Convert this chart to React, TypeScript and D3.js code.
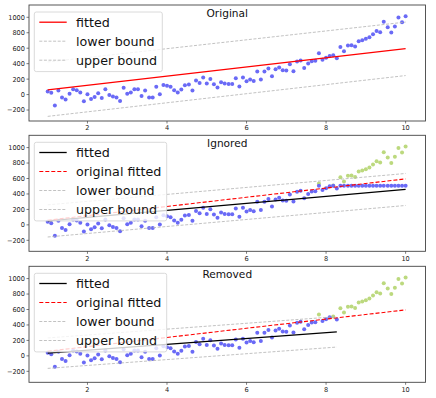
import React from 'react';
import * as d3 from 'd3';

// sample positions (100 evenly spaced samples between 1 and 10)
const xValues = [
  1.0, 1.09, 1.18, 1.27, 1.36, 1.45, 1.55, 1.64, 1.73, 1.82, 1.91,
  2.0, 2.09, 2.18, 2.27, 2.36, 2.45, 2.55, 2.64, 2.73, 2.82, 2.91,
  3.0, 3.09, 3.18, 3.27, 3.36, 3.45, 3.55, 3.64, 3.73, 3.82, 3.91,
  4.0, 4.09, 4.18, 4.27, 4.36, 4.45, 4.55, 4.64, 4.73, 4.82, 4.91,
  5.0, 5.09, 5.18, 5.27, 5.36, 5.45, 5.55, 5.64, 5.73, 5.82, 5.91,
  6.0, 6.09, 6.18, 6.27, 6.36, 6.45, 6.55, 6.64, 6.73, 6.82, 6.91,
  7.0, 7.09, 7.18, 7.27, 7.36, 7.45, 7.55, 7.64, 7.73, 7.82, 7.91,
  8.0, 8.09, 8.18, 8.27, 8.36, 8.45, 8.55, 8.64, 8.73, 8.82, 8.91,
  9.0, 9.09, 9.18, 9.27, 9.36, 9.45, 9.55, 9.64, 9.73, 9.82, 9.91,
  10.0,
];

const yValues = [
  40, 22, -142, 52, -39, -65, 9, 70, 57, 26,
  -85, 5, -56, -30, 18, -43, 70, -4, -26, -39,
  -82, 87, 9, 26, 70, 68, -17, 52, -39, -39,
  100, 5, 125, 113, 100, 57, 26, 65, 121, 129,
  52, 181, 151, 220, 142, 203, 134, 91, 160, 142,
  138, 138, 212, 104, 220, 173, 194, 177, 298, 194,
  298, 336, 238, 328, 350, 315, 311, 393, 302, 427,
  440, 345, 401, 432, 436, 536, 451, 475, 499, 510,
  471, 617, 561, 634, 639, 621, 691, 704, 721, 743,
  782, 824, 807, 941, 872, 802, 880, 996, 937, 1014,
];

// values above this are treated as outliers
const outlierCap = 505;

// straight lines given by their two ends
const fullEnds = [1, 10];
const removedEnds = [1, 8.27];
const originalFit = [60, 595];
const originalLower = [-282, 246];
const originalUpper = [422, 938];
const ignoredFit = [52, 460];
const ignoredLower = [-157, 251];
const ignoredUpper = [259, 665];
const removedFit = [35, 311];
const removedLower = [-162, 114];
const removedUpper = [232, 508];

const xTicks = [2, 4, 6, 8, 10];
const yTicks = [-200, 0, 200, 400, 600, 800, 1000];

const W = 436;
const H = 398;
const left = 29;
const right = 425.5;
const panelH = 116;
const font = 'DejaVu Sans, sans-serif';

const BLUE = '#6a6af6';
const GREEN = '#bcd97e';

type Style = { stroke: string; width: number; dash?: string };
const fitRed: Style = { stroke: '#ff0000', width: 1.3 };
const fitBlack: Style = { stroke: '#000000', width: 1.3 };
const origDashed: Style = { stroke: '#ff0000', width: 1.1, dash: '4,2' };
const bound: Style = { stroke: '#b3b3b3', width: 0.8, dash: '3,1.6' };

type Line = { label: string; xs: number[]; ys: number[]; style: Style; legendStyle?: Style };

const x = d3.scaleLinear().domain([0.53, 10.5]).range([left, right]);

const pts = xValues.map((xv, i) => ({ x: xv, y: yValues[i] }));
const outliers = pts.filter(p => p.y > outlierCap);
const capped = pts.map(p => ({ x: p.x, y: Math.min(p.y, outlierCap) }));
const kept = pts.filter(p => p.y <= outlierCap);

const panels = [
  {
    title: 'Original', top: 5, legendW: 128,
    blue: pts, green: [] as { x: number; y: number }[],
    lines: [
      { label: 'fitted', xs: fullEnds, ys: originalFit, style: fitRed },
      { label: 'lower bound', xs: fullEnds, ys: originalLower, style: bound },
      { label: 'upper bound', xs: fullEnds, ys: originalUpper, style: bound },
    ] as Line[],
  },
  {
    title: 'Ignored', top: 135.3, legendW: 132.4,
    blue: capped, green: outliers,
    lines: [
      { label: 'fitted', xs: fullEnds, ys: ignoredFit, style: fitBlack },
      { label: 'original fitted', xs: fullEnds, ys: originalFit, style: origDashed },
      { label: 'lower bound', xs: fullEnds, ys: ignoredLower, style: bound },
      { label: 'upper bound', xs: fullEnds, ys: ignoredUpper, style: bound },
    ] as Line[],
  },
  {
    title: 'Removed', top: 266.3, legendW: 132.4,
    blue: kept, green: outliers,
    lines: [
      { label: 'fitted', xs: removedEnds, ys: removedFit, style: fitBlack },
      { label: 'original fitted', xs: fullEnds, ys: originalFit, style: origDashed },
      { label: 'lower bound', xs: removedEnds, ys: removedLower, style: bound },
      { label: 'upper bound', xs: removedEnds, ys: removedUpper, style: bound },
    ] as Line[],
  },
];

function Panel({ p }: { p: typeof panels[number] }) {
  const top = p.top;
  const bottom = top + panelH;
  const y = d3.scaleLinear().domain([-342, 1159]).range([bottom, top]);
  const line = d3.line<[number, number]>().x(d => x(d[0])).y(d => y(d[1]));

  const lx = left + 5.3;
  const ly = top + 7;
  const rowY = (i: number) => top + 17.2 + i * 19;
  const legendH = rowY(p.lines.length - 1) + 11.4 - ly;

  return (
    <g>
      <rect x={left} y={top} width={right - left} height={panelH} fill="#fff" />
      {p.green.map((d, i) => (
        <circle key={'g' + i} cx={x(d.x)} cy={y(d.y)} r={2} fill={GREEN} />
      ))}
      {p.blue.map((d, i) => (
        <circle key={'b' + i} cx={x(d.x)} cy={y(d.y)} r={2} fill={BLUE} />
      ))}
      {p.lines.map((l, i) => (
        <path
          key={'l' + i}
          d={line(l.xs.map((xv, j) => [xv, l.ys[j]] as [number, number])) || ''}
          fill="none"
          stroke={l.style.stroke}
          strokeWidth={l.style.width}
          strokeDasharray={l.style.dash}
        />
      ))}
      <rect x={left} y={top} width={right - left} height={panelH} fill="none" stroke="#444" strokeWidth={0.9} />
      {/* ticks */}
      {xTicks.map(t => (
        <g key={'xt' + t}>
          <line x1={x(t)} x2={x(t)} y1={bottom} y2={bottom + 2.5} stroke="#444" strokeWidth={0.7} />
          <text x={x(t)} y={bottom + 9.2} textAnchor="middle" fontSize={6.6} fontFamily={font} fill="#222">{t}</text>
        </g>
      ))}
      {yTicks.map(t => (
        <g key={'yt' + t}>
          <line x1={left - 2.5} x2={left} y1={y(t)} y2={y(t)} stroke="#444" strokeWidth={0.7} />
          <text x={left - 4} y={y(t) + 2.4} textAnchor="end" fontSize={6.6} fontFamily={font} fill="#222">
            {t < 0 ? '\u2212' + Math.abs(t) : t}
          </text>
        </g>
      ))}
      <text x={(left + right) / 2} y={top + 11.6} textAnchor="middle" fontSize={10.6} fontFamily={font} fill="#111">{p.title}</text>
      {/* legend */}
      <rect x={lx} y={ly} width={p.legendW} height={legendH} rx={2} fill="#fff" fillOpacity={0.8} stroke="#d0d0d0" strokeWidth={0.8} />
      {p.lines.map((l, i) => (
        <g key={'lg' + i}>
          <line
            x1={lx + 5} x2={lx + 32.4} y1={rowY(i)} y2={rowY(i)}
            stroke={l.style.stroke} strokeWidth={l.style.width} strokeDasharray={l.style.dash}
          />
          <text x={lx + 41.7} y={rowY(i) + 4.6} fontSize={12.7} fontFamily={font} fill="#111">{l.label}</text>
        </g>
      ))}
    </g>
  );
}

export default function App() {
  return (
    <svg width={W} height={H} style={{ position: 'absolute', left: 0, top: 0, background: '#fff' }}>
      <rect width={W} height={H} fill="#fff" />
      {panels.map(p => <Panel key={p.title} p={p} />)}
    </svg>
  );
}
